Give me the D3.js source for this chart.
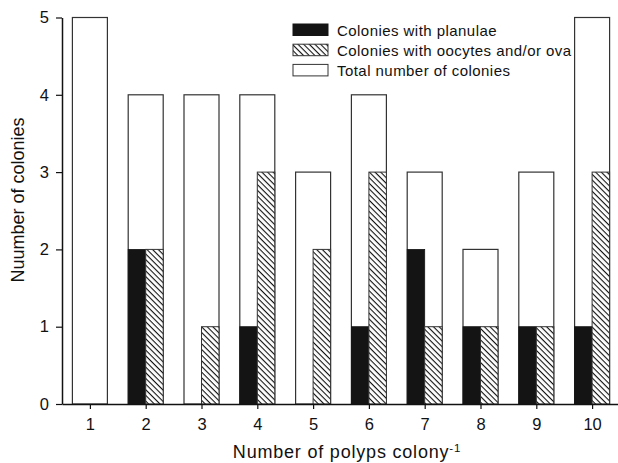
<!DOCTYPE html>
<html>
<head>
<meta charset="utf-8">
<script src="https://cdn.jsdelivr.net/npm/d3@7"></script>
<style>
  html, body { margin: 0; padding: 0; background: #fff; }
  svg { display: block; font-family: "Liberation Sans", Arial, Helvetica, sans-serif; }
</style>
</head>
<body>
<svg id="chart" width="618" height="463"></svg>
<script>
// Number of polyps per colony (x categories)
const polyps = [1, 2, 3, 4, 5, 6, 7, 8, 9, 10];
// Colonies with planulae
const planulae = [0, 2, 0, 1, 0, 1, 2, 1, 1, 1];
// Colonies with oocytes and/or ova
const oocytes = [0, 2, 1, 3, 2, 3, 1, 1, 1, 3];
// Total number of colonies
const totals = [5, 4, 4, 4, 3, 4, 3, 2, 3, 5];
const yTicks = [0, 1, 2, 3, 4, 5];

const svg = d3.select("#chart");
const x = d3.scaleLinear().domain([0.5, 10.5]).range([62, 620]);
const y = d3.scaleLinear().domain([0, 5]).range([404, 17.5]);
const barW = 35;

// hatch pattern for the oocyte bars
const defs = svg.append("defs");
const pat = defs.append("pattern")
  .attr("id", "hatch")
  .attr("patternUnits", "userSpaceOnUse")
  .attr("width", 4).attr("height", 4)
  .attr("patternTransform", "rotate(45)");
pat.append("rect").attr("width", 4).attr("height", 4).attr("fill", "#fff");
pat.append("line").attr("x1", 0).attr("y1", 0).attr("x2", 4).attr("y2", 0)
  .attr("stroke", "#111").attr("stroke-width", 2.2);

const stroke = "#333";

// total colonies (white, full width)
svg.append("g").selectAll("rect").data(polyps).join("rect")
  .attr("x", (d) => x(d) - barW / 2)
  .attr("width", barW)
  .attr("y", (d, i) => y(totals[i]))
  .attr("height", (d, i) => y(0) - y(totals[i]))
  .attr("fill", "#fff").attr("stroke", stroke).attr("stroke-width", 1.2);

// planulae (black, left half)
svg.append("g").selectAll("rect").data(polyps).join("rect")
  .attr("x", (d) => x(d) - barW / 2)
  .attr("width", barW / 2)
  .attr("y", (d, i) => y(planulae[i]))
  .attr("height", (d, i) => y(0) - y(planulae[i]))
  .attr("fill", "#141414").attr("stroke", "#141414").attr("stroke-width", 0.8);

// oocytes and/or ova (hatched, right half)
svg.append("g").selectAll("rect").data(polyps).join("rect")
  .attr("x", (d) => x(d))
  .attr("width", barW / 2)
  .attr("y", (d, i) => y(oocytes[i]))
  .attr("height", (d, i) => y(0) - y(oocytes[i]))
  .attr("fill", "url(#hatch)").attr("stroke", stroke).attr("stroke-width", 1);

// axes
const xAxis = d3.axisBottom(x).tickValues(polyps).tickSizeInner(5).tickSizeOuter(0).tickPadding(9);
const gx = svg.append("g").attr("transform", `translate(0,${y(0)})`).call(xAxis);
gx.select(".domain").attr("stroke", "#111").attr("stroke-width", 1.5);
gx.selectAll(".tick line").attr("stroke", "#111").attr("stroke-width", 1.2);
gx.selectAll(".tick text").attr("font-size", 16.5).attr("fill", "#111");

const yAxis = d3.axisLeft(y).tickValues(yTicks).tickFormat(d3.format("d")).tickSizeInner(6).tickSizeOuter(0).tickPadding(7);
const gy = svg.append("g").attr("transform", `translate(62,0)`).call(yAxis);
gy.select(".domain").attr("stroke", "#111").attr("stroke-width", 1.5);
gy.selectAll(".tick line").attr("stroke", "#111").attr("stroke-width", 1.2);
gy.selectAll(".tick text").attr("font-size", 16.5).attr("fill", "#111");

// axis titles
const xt = svg.append("text")
  .attr("x", 347).attr("y", 458)
  .attr("text-anchor", "middle").attr("font-size", 18).attr("letter-spacing", 0.8)
  .attr("fill", "#111");
xt.append("tspan").text("Number of polyps colony");
xt.append("tspan").attr("dy", -6).attr("font-size", 11.5).text("-1");

svg.append("text")
  .attr("transform", "translate(24,200) rotate(-90)")
  .attr("text-anchor", "middle").attr("font-size", 18).attr("letter-spacing", 0)
  .attr("fill", "#111")
  .text("Nuumber of colonies");

// legend
const legendItems = [
  { label: "Colonies with planulae", fill: "#141414", stroke: "#141414" },
  { label: "Colonies with oocytes and/or ova", fill: "url(#hatch)", stroke: stroke },
  { label: "Total number of colonies", fill: "#fff", stroke: stroke }
];
const lg = svg.append("g").attr("transform", "translate(293,24)");
const row = lg.selectAll("g").data(legendItems).join("g")
  .attr("transform", (d, i) => `translate(0,${i * 20.2})`);
row.append("rect").attr("width", 35).attr("height", 11.5)
  .attr("fill", (d) => d.fill).attr("stroke", (d) => d.stroke).attr("stroke-width", 1);
row.append("text").attr("x", 44).attr("y", 11.5).attr("font-size", 15).attr("letter-spacing", 0.45)
  .attr("fill", "#111")
  .text((d) => d.label);
</script>
</body>
</html>
